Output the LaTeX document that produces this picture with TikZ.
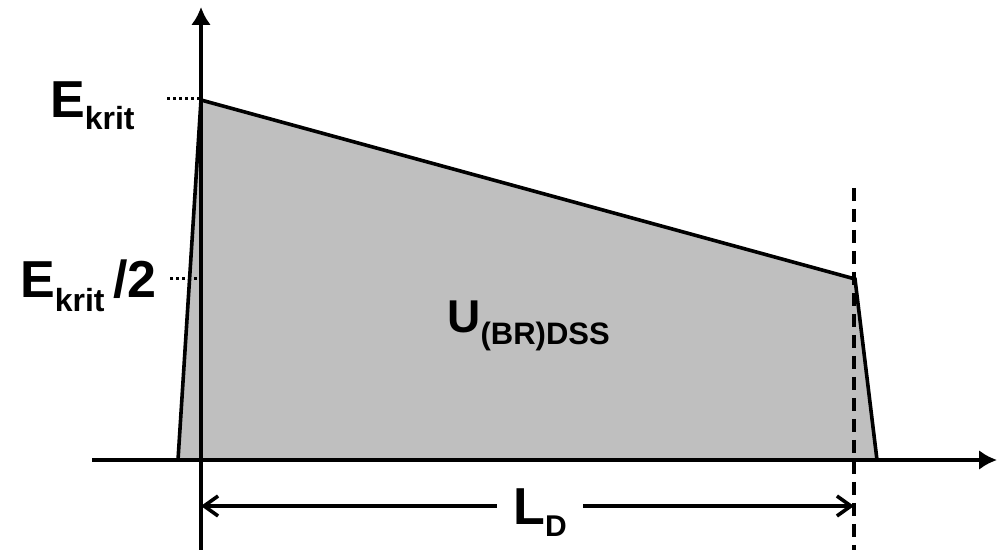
\documentclass[tikz,border=0pt]{standalone}
\usepackage{fontspec}
\setmainfont{Liberation Sans}
\usetikzlibrary{arrows.meta}

\begin{document}
\begin{tikzpicture}[
  x=0.5pt, y=-0.5pt,
  axis/.style={draw, line width=1.9pt, -{Latex[length=9pt,width=10pt]}},
  outline/.style={draw, line width=1.8pt, fill=gray!50, line join=miter},
  guide/.style={draw, line width=2pt, dash pattern=on 6.5pt off 4pt},
  level mark/.style={draw, line width=1.5pt, dash pattern=on 1.5pt off 1.5pt},
  dimension/.style={draw, line width=1.8pt, {Straight Barb[length=7pt,width=10pt]}-{Straight Barb[length=7pt,width=10pt]}},
  big label/.style={font=\fontsize{26}{26}\bfseries\selectfont, inner sep=0pt},
  mid label/.style={font=\fontsize{23}{23}\bfseries\selectfont, inner sep=0pt}
]
\useasboundingbox (0,0) rectangle (997,550);

% Punkte
\coordinate (origin) at (201,460);
\coordinate (xstart) at (92,460);
\coordinate (xend) at (997,460);
\coordinate (ybot) at (201,550);
\coordinate (ytop) at (201,7);
\coordinate (pa) at (178,460);
\coordinate (pb) at (201,100);
\coordinate (pc) at (855,279);
\coordinate (pd) at (877,460);
\coordinate (guidetop) at (854,188);
\coordinate (guidebot) at (854,550);
\coordinate (ekrit) at (167,99);
\coordinate (ekrithalf) at (170,279);
\coordinate (dimleft) at (201,506);
\coordinate (dimright) at (854,506);

% Feldverlauf
\path[outline] (pa) -- (pb) -- (pc) -- (pd) -- cycle;

% Achsen
\path[axis] (xstart) -- (xend);
\path[axis] (ybot) -- (ytop);

\path[guide] (guidetop) -- (guidebot);
\path[level mark] (ekrit) -- (ekrit -| origin);
\path[level mark] (ekrithalf) -- (ekrithalf -| origin);
\path[dimension] (dimleft) -- (dimright);

% Beschriftung
\node[big label, anchor=base east] (lblekrit) at (135,118)
  {E\raisebox{-6pt}{\fontsize{16}{16}\selectfont krit}};
\node[big label, anchor=base east] (lblekrithalf) at (157,298)
  {E\raisebox{-7pt}{\fontsize{16}{16}\selectfont krit}\,/2};
\node[mid label, anchor=base west] (lblvoltage) at (447,333)
  {U\raisebox{-6pt}{\fontsize{15.5}{15.5}\selectfont (BR)DSS}};
\node[big label, anchor=base west, fill=white, inner xsep=8pt, inner ysep=2pt] (lbllength) at (497,525)
  {L\raisebox{-6pt}{\fontsize{15}{15}\selectfont D}};

\end{tikzpicture}
\end{document}
